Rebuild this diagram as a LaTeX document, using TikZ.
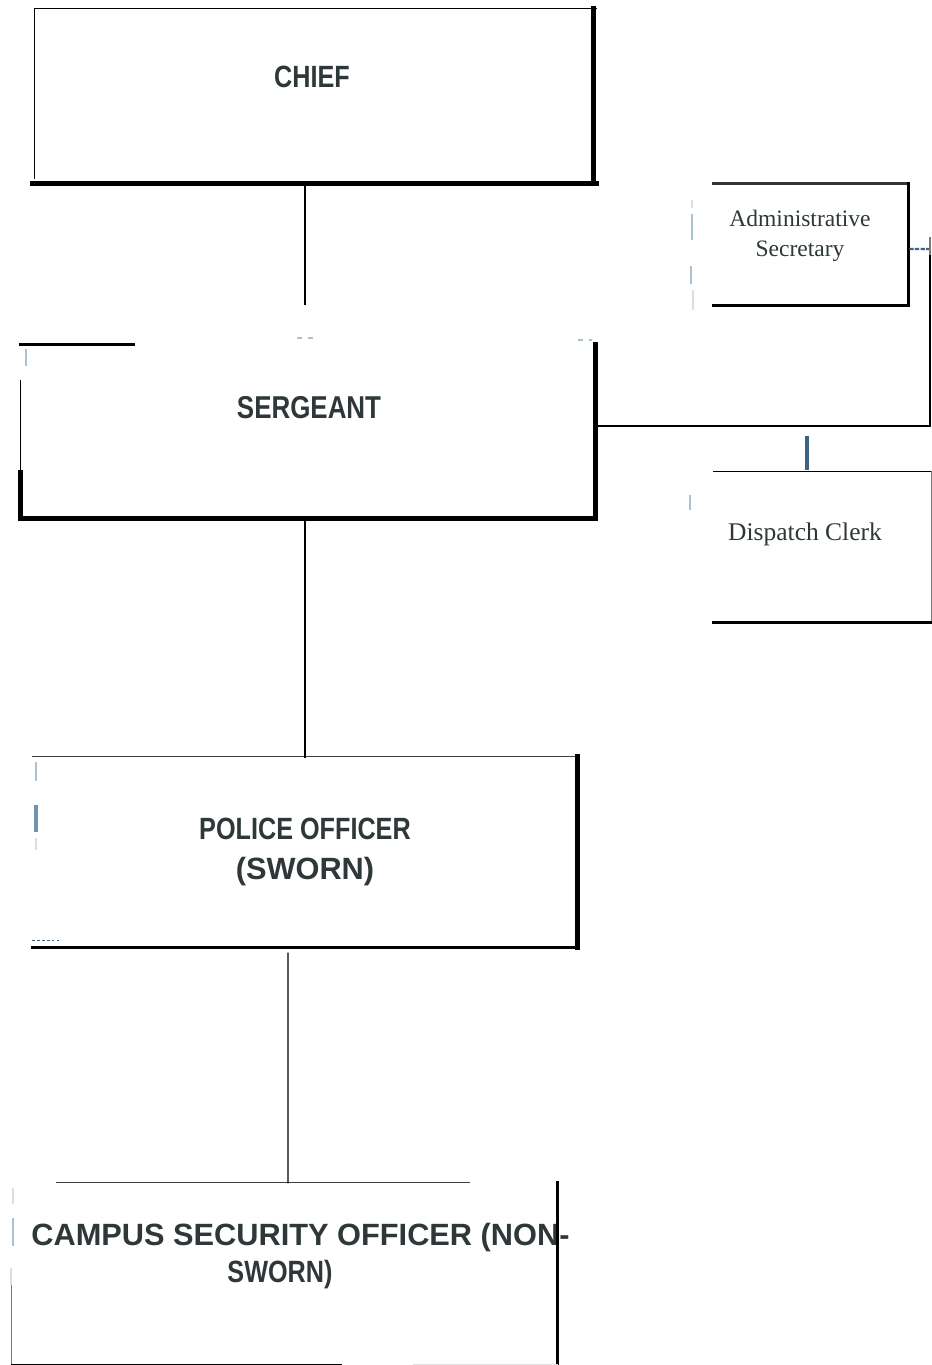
\documentclass[tikz,border=0pt]{standalone}
\usepackage{fontspec}
\setmainfont{Liberation Serif}
\newfontfamily\narrowsf[FakeStretch=0.82]{Liberation Sans}
\newfontfamily\widesf{Liberation Sans}
\usetikzlibrary{positioning, calc}
\definecolor{cink}{HTML}{2E3838}
\definecolor{cgrey}{HTML}{7A7A7A}
\definecolor{cnavy}{HTML}{3C6385}
\definecolor{cpale}{HTML}{A9C3D3}
\tikzset{
  every picture/.style={line cap=rect},
  frame/.style={inner sep=0pt},
  rank/.style={font=\narrowsf\bfseries\fontsize{17.5}{21.5}\selectfont, text=cink, align=center, inner sep=0pt},
  staff/.style={font=\fontsize{13.4}{17}\selectfont, text=cink, align=center, inner sep=0pt},
  heavy/.style={line width=2.6pt},
  mid/.style={line width=1.6pt},
  hair/.style={line width=0.8pt},
  scanmark/.style={draw=cpale, line width=1.3pt, line cap=butt},
}

\begin{document}
\begin{tikzpicture}[x=0.02cm, y=-0.02cm]
  \useasboundingbox (0,0) rectangle (932,1365);
  % ---------- boxes
  \node[frame, minimum width=11.16cm, minimum height=3.48cm] (chief) at (314,96) {};
  \node[frame, minimum width=11.48cm, minimum height=3.46cm] (serg) at (308,431.5) {};
  \node[frame, minimum width=3.92cm, minimum height=2.42cm] (admin) at (810,244.5) {};
  \node[frame, minimum width=4.38cm, minimum height=3.0cm] (disp) at (821.5,547) {};
  \node[frame, minimum width=10.88cm, minimum height=3.8cm] (police) at (305,852) {};
  \node[frame, minimum width=10.9cm, minimum height=3.62cm] (campus) at (284.5,1273.5) {};
  % ---------- titles
  \node[rank] (chieft) at (312,77) {CHIEF};
  \node[rank, font=\narrowsf\bfseries\fontsize{18}{21.5}\selectfont] (sergt) at (309,408) {SERGEANT};
  \node[rank, font=\narrowsf\bfseries\fontsize{17.5}{22.5}\selectfont] (policet) at (305,852) {POLICE OFFICER\\{\widesf (SWORN)}};
  \node[rank, font=\widesf\bfseries\fontsize{17.5}{21}\selectfont] (campust) at (300.5,1256) {CAMPUS SECURITY OFFICER (NON-\\\hspace*{-0.82cm}{\narrowsf SWORN)}};
  \node[staff] (admint) at (800,236) {Administrative\\Secretary};
  \node[staff, font=\fontsize{14.5}{17}\selectfont] (dispt) at (805,534) {Dispatch Clerk};
  % ---------- chief
  \draw[hair] (chief.north west) -- ($(chief.north east)+(3,0)$);
  \draw[hair] (chief.north west) -- ($(chief.south west)+(0,-5)$);
  \draw[heavy] (chief.north east) -- (chief.south east);
  \draw[heavy] ($(chief.south west)+(-2,0)$) -- ($(chief.south east)+(3,0)$);
  % ---------- sergeant
  \draw[mid] (serg.north west) -- +(113,0);
  \draw[hair] ($(serg.north west)+(0,36)$) -- ($(serg.south west)+(0,-46)$);
  \draw[heavy] ($(serg.south west)+(0,-46)$) -- (serg.south west);
  \draw[heavy] (serg.north east) -- (serg.south east);
  \draw[heavy] (serg.south west) -- (serg.south east);
  % ---------- admin secretary
  \draw[mid, draw=black!80] ($(admin.north west)+(2,0)$) -- (admin.north east);
  \draw[mid] (admin.north east) -- (admin.south east);
  \draw[mid] ($(admin.south west)+(2,0)$) -- (admin.south east);
  % ---------- dispatch clerk
  \draw[hair] ($(disp.north west)+(2,0)$) -- (disp.north east);
  \draw[hair, draw=cgrey] (disp.north east) -- (disp.south east);
  \draw[mid] ($(disp.south west)+(2,0)$) -- (disp.south east);
  % ---------- police officer
  \draw[hair, draw=black!75] (police.north west) -- (police.north east);
  \draw[heavy] (police.north east) -- (police.south east);
  \draw[mid] (police.south west) -- (police.south east);
  \draw[cnavy, dotted, line width=0.8pt] ($(police.south west)+(0,-7)$) -- +(27,0);
  % ---------- campus security officer
  \draw[hair, draw=black!75] ($(campus.north west)+(45,0)$) -- ($(campus.north west)+(458,0)$);
  \draw[mid] (campus.north east) -- (campus.south east);
  \draw[hair, draw=cgrey] (campus.west) -- (campus.south west);
  \draw[hair] (campus.south west) -- +(330,0);
  \draw[hair, draw=black!12] ($(campus.south east)+(-144,0)$) -- (campus.south east);
  % ---------- connectors
  \coordinate (hub) at (930,249);
  \coordinate (elbow) at (930,426);
  \draw[hair] ($(chief.south)+(-9,3)$) -- ($(serg.north)+(-3,-40)$);
  \draw[mid] (serg.south -| police.north) -- (police.north);
  \draw[hair] ($(police.south)+(-17,6)$) -- ($(campus.north)+(3.5,0)$);
  \draw[cnavy, dotted, line width=1.2pt] (admin.east) ++(2,4.5) -- (hub);
  \draw[mid, draw=cgrey] ($(hub)+(0,-11)$) -- ($(hub)+(0,7)$);
  \draw[mid] ($(hub)+(0,7)$) -- (elbow) -- (elbow -| serg.east);
  \draw[cnavy, line width=2.2pt, line cap=butt] ($(disp.north)+(-14.5,-36)$) -- ($(disp.north)+(-14.5,-2)$);
  % ---------- scan marks
  \foreach \x/\ya/\yb in {692/214/240, 691/266/284, 26/349/366, 690/495/510, 36/762/781, 13/1218/1246}
    \draw[scanmark] (\x,\ya) -- (\x,\yb);
  \foreach \x/\ya/\yb in {692/200/208, 693/290/310, 36/838/850, 13/1188/1204, 11/1268/1285}
    \draw[scanmark, draw=cpale!50] (\x,\ya) -- (\x,\yb);
  \draw[scanmark, draw=cnavy!50!cpale, line width=1.8pt] (36,805) -- (36,832);
  \draw[scanmark, dashed] (297,338) -- (314,338);
  \draw[scanmark, dashed] (578,340) -- (592,340);
\end{tikzpicture}
\end{document}
